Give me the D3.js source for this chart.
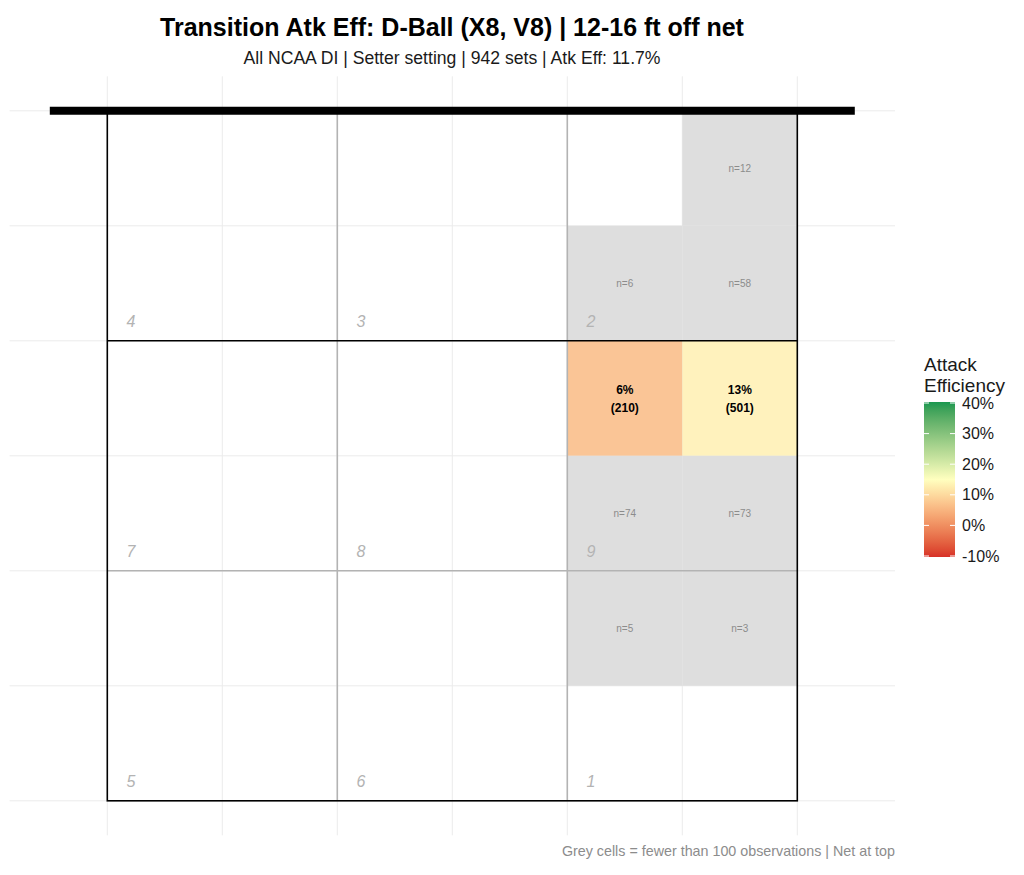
<!DOCTYPE html>
<html>
<head>
<meta charset="utf-8">
<script src="https://cdn.jsdelivr.net/npm/d3@7"></script>
<style>
  body { margin: 0; background: #fff; }
  svg { font-family: "Liberation Sans", Arial, sans-serif; }
</style>
</head>
<body>
<div id="container"></div>
<script>
/* DATA */
// sub-cells of the court, 1.5 m each: column 0-5 (left to right), row 0-5 (net to baseline)
const cellCol = [5, 4, 5, 4, 5, 4, 5, 4, 5];
const cellRow = [0, 1, 1, 2, 2, 3, 3, 4, 4];
const cellN   = [12, 6, 58, 210, 501, 74, 73, 5, 3];
const cellEff = [null, null, null, 0.06, 0.13, null, null, null, null];

// zones, 3 m each
const zoneNames = ["4", "3", "2", "7", "8", "9", "5", "6", "1"];
const zoneCol   = [0, 1, 2, 0, 1, 2, 0, 1, 2];
const zoneRow   = [0, 0, 0, 1, 1, 1, 2, 2, 2];

const legendTicks = [-0.1, 0, 0.1, 0.2, 0.3, 0.4];
const gridBreaks = [0, 1.5, 3, 4.5, 6, 7.5, 9];

/* CONSTANTS */
const width = 1024, height = 875;
const cell = 1.5, zone = 3, minN = 100;

const svg = d3.select("#container").append("svg")
  .attr("width", width)
  .attr("height", height);

// court in metres, net at y = 0; panel is the court plus 5% each side
const xScale = d3.scaleLinear().domain([0, 9]).range([107.3, 797.3]);
const yScale = d3.scaleLinear().domain([0, 9]).range([110.8, 800.8]);
const panelX = [xScale(-1.275), xScale(10.275)];
const panelY = [yScale(-0.45), yScale(9.45)];

// diverging fill like scale_fill_gradient2, midpoint 15%
const colorScale = d3.scaleLinear()
  .domain([-0.1, 0.15, 0.4])
  .range(["#d73027", "#ffffbf", "#1a9850"])
  .interpolate(d3.interpolateLab)
  .clamp(true);

// titles
svg.append("text")
  .attr("x", 452).attr("y", 36)
  .attr("text-anchor", "middle")
  .attr("font-size", 25).attr("font-weight", "bold")
  .text("Transition Atk Eff: D-Ball (X8, V8) | 12-16 ft off net");

svg.append("text")
  .attr("x", 452).attr("y", 64)
  .attr("text-anchor", "middle")
  .attr("font-size", 17.6).attr("fill", "#1a1a1a")
  .text("All NCAA DI | Setter setting | 942 sets | Atk Eff: 11.7%");

// grid
const grid = svg.append("g").attr("stroke", "#ebebeb").attr("stroke-width", 1);
grid.selectAll(".gx").data(gridBreaks).join("line")
  .attr("x1", d => xScale(d)).attr("x2", d => xScale(d))
  .attr("y1", panelY[0]).attr("y2", panelY[1]);
grid.selectAll(".gy").data(gridBreaks).join("line")
  .attr("y1", d => yScale(d)).attr("y2", d => yScale(d))
  .attr("x1", panelX[0]).attr("x2", panelX[1]);

// cells
const cells = cellN.map((n, i) => ({ col: cellCol[i], row: cellRow[i], n: n, eff: cellEff[i] }));

svg.append("g").selectAll("rect")
  .data(cells)
  .join("rect")
  .attr("x", d => xScale(d.col * cell))
  .attr("y", d => yScale(d.row * cell))
  .attr("width", d => xScale((d.col + 1) * cell) - xScale(d.col * cell))
  .attr("height", d => yScale((d.row + 1) * cell) - yScale(d.row * cell))
  .attr("fill", d => d.n < minN ? "#dedede" : colorScale(d.eff))
  .attr("fill-opacity", d => d.n < minN ? 1 : 0.85);

const cellText = svg.append("g").attr("text-anchor", "middle");
cells.forEach(d => {
  const cx = xScale((d.col + 0.5) * cell), cy = yScale((d.row + 0.5) * cell);
  if (d.n < minN) {
    cellText.append("text")
      .attr("x", cx).attr("y", cy + 3.5)
      .attr("font-size", 10).attr("fill", "#8c8c8c")
      .text("n=" + d.n);
  } else {
    cellText.append("text")
      .attr("x", cx).attr("y", cy - 4.5)
      .attr("font-size", 12).attr("font-weight", "bold")
      .text(Math.round(d.eff * 100) + "%");
    cellText.append("text")
      .attr("x", cx).attr("y", cy + 13.5)
      .attr("font-size", 12).attr("font-weight", "bold")
      .text("(" + d.n + ")");
  }
});

// zone dividers
const lines = svg.append("g").attr("fill", "none");
[zone, 2 * zone].forEach(v => {
  lines.append("line")
    .attr("x1", xScale(v)).attr("x2", xScale(v))
    .attr("y1", yScale(0)).attr("y2", yScale(9))
    .attr("stroke", "#b3b3b3").attr("stroke-width", 1.6);
});
lines.append("line")
  .attr("x1", xScale(0)).attr("x2", xScale(9))
  .attr("y1", yScale(2 * zone)).attr("y2", yScale(2 * zone))
  .attr("stroke", "#b3b3b3").attr("stroke-width", 1.6);
// attack line
lines.append("line")
  .attr("x1", xScale(0)).attr("x2", xScale(9))
  .attr("y1", yScale(zone)).attr("y2", yScale(zone))
  .attr("stroke", "#000").attr("stroke-width", 1.6);
// court outline
lines.append("rect")
  .attr("x", xScale(0)).attr("y", yScale(0))
  .attr("width", xScale(9) - xScale(0)).attr("height", yScale(9) - yScale(0))
  .attr("stroke", "#000").attr("stroke-width", 1.6);
// net
lines.append("line")
  .attr("x1", xScale(-0.75)).attr("x2", xScale(9.75))
  .attr("y1", yScale(0)).attr("y2", yScale(0))
  .attr("stroke", "#000").attr("stroke-width", 8);

// zone numbers
svg.append("g").selectAll("text")
  .data(zoneNames)
  .join("text")
  .attr("x", (d, i) => xScale(zoneCol[i] * zone + 0.25))
  .attr("y", (d, i) => yScale((zoneRow[i] + 1) * zone - 0.18))
  .attr("font-size", 16).attr("font-style", "italic")
  .attr("fill", "#b3b3b3")
  .text(d => d);

// caption
svg.append("text")
  .attr("x", 895).attr("y", 856)
  .attr("text-anchor", "end")
  .attr("font-size", 14.3).attr("fill", "#8c8c8c")
  .text("Grey cells = fewer than 100 observations | Net at top");

// legend
const legY = d3.scaleLinear().domain([-0.1, 0.4]).range([556, 403]);
const legX = 924, legW = 31;
const grad = svg.append("defs").append("linearGradient")
  .attr("id", "effGrad")
  .attr("x1", 0).attr("y1", 1).attr("x2", 0).attr("y2", 0);
grad.selectAll("stop")
  .data(d3.range(0, 1.0001, 0.05))
  .join("stop")
  .attr("offset", d => d)
  .attr("stop-color", d => colorScale(-0.1 + d * 0.5));

const legend = svg.append("g");
legend.append("text")
  .attr("x", legX).attr("y", 371)
  .attr("font-size", 19).attr("fill", "#1a1a1a")
  .text("Attack");
legend.append("text")
  .attr("x", legX).attr("y", 392)
  .attr("font-size", 19).attr("fill", "#1a1a1a")
  .text("Efficiency");
legend.append("rect")
  .attr("x", legX).attr("y", legY(0.4) - 1)
  .attr("width", legW).attr("height", legY(-0.1) - legY(0.4) + 2)
  .attr("fill", "url(#effGrad)");
legend.selectAll(".tk")
  .data(legendTicks)
  .join("g")
  .each(function (d) {
    const g = d3.select(this);
    g.append("line")
      .attr("x1", legX).attr("x2", legX + 5)
      .attr("y1", legY(d)).attr("y2", legY(d))
      .attr("stroke", "#fff").attr("stroke-width", 1);
    g.append("line")
      .attr("x1", legX + legW - 5).attr("x2", legX + legW)
      .attr("y1", legY(d)).attr("y2", legY(d))
      .attr("stroke", "#fff").attr("stroke-width", 1);
    g.append("text")
      .attr("x", legX + legW + 7).attr("y", legY(d) + 5.5)
      .attr("font-size", 16).attr("fill", "#1a1a1a")
      .text(Math.round(d * 100) + "%");
  });
</script>
</body>
</html>
